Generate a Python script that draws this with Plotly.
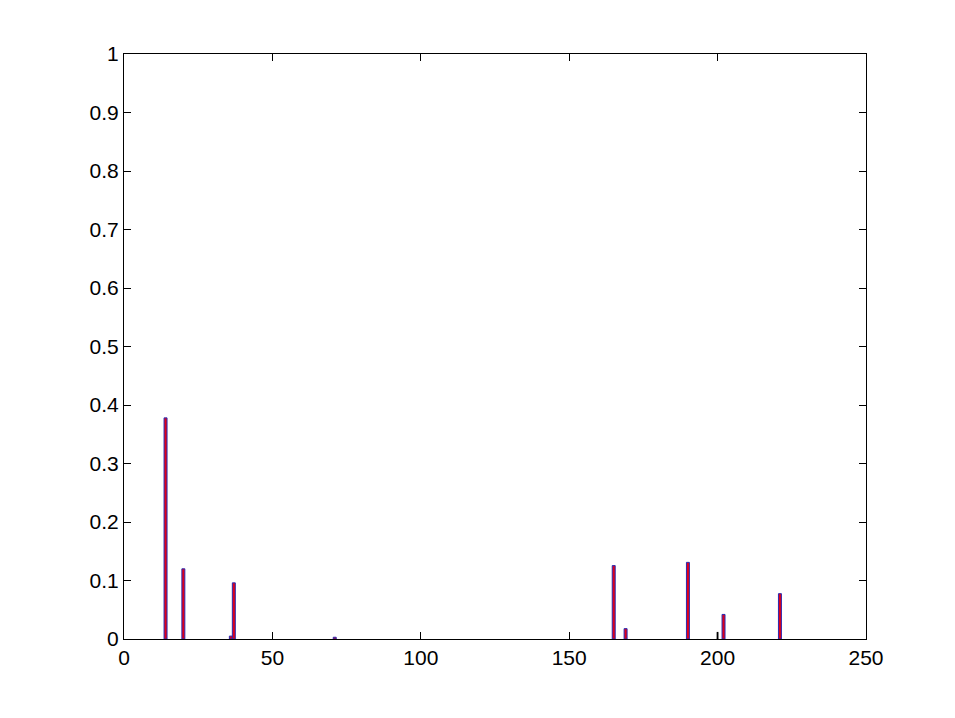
import plotly.graph_objects as go

# Data
x_main = [14, 20, 36, 37, 71, 165, 169, 190, 202, 221]
y_main = [0.378, 0.120, 0.005, 0.096, 0.003, 0.1255, 0.0177, 0.131, 0.042, 0.0775]
x_gray = [200]
y_gray = [0.0115]

x_ticks = [0, 50, 100, 150, 200, 250]
y_ticks = [0, 0.1, 0.2, 0.3, 0.4, 0.5, 0.6, 0.7, 0.8, 0.9, 1]
y_tick_text = ["0", "0.1", "0.2", "0.3", "0.4", "0.5", "0.6", "0.7", "0.8", "0.9", "1"]

fig = go.Figure()
fig.add_trace(go.Bar(x=x_main, y=y_main, width=1.0,
                     marker=dict(color="#e0001a", line=dict(color="#2a2ab0", width=1)),
                     showlegend=False))
fig.add_trace(go.Bar(x=x_gray, y=y_gray, width=0.6,
                     marker=dict(color="#707070", line=dict(color="#505050", width=0.5)),
                     showlegend=False))

font = dict(family="Liberation Sans, Arial, sans-serif", size=21, color="black")
fig.update_layout(
    width=955, height=718,
    margin=dict(l=116, r=97, t=46, b=87),
    paper_bgcolor="white", plot_bgcolor="white",
    barmode="overlay",
    font=font,
)
fig.update_xaxes(range=[0, 250], tickvals=x_ticks, ticks="inside", ticklen=7,
                 showline=True, linecolor="black", linewidth=1, mirror="ticks",
                 showgrid=False, zeroline=False, tickcolor="black", tickfont=font)
fig.update_yaxes(range=[0, 1], tickvals=y_ticks, ticktext=y_tick_text, ticks="inside", ticklen=7,
                 showline=True, linecolor="black", linewidth=1, mirror="ticks",
                 showgrid=False, zeroline=False, tickcolor="black", tickfont=font)

fig.write_html("out.html")
